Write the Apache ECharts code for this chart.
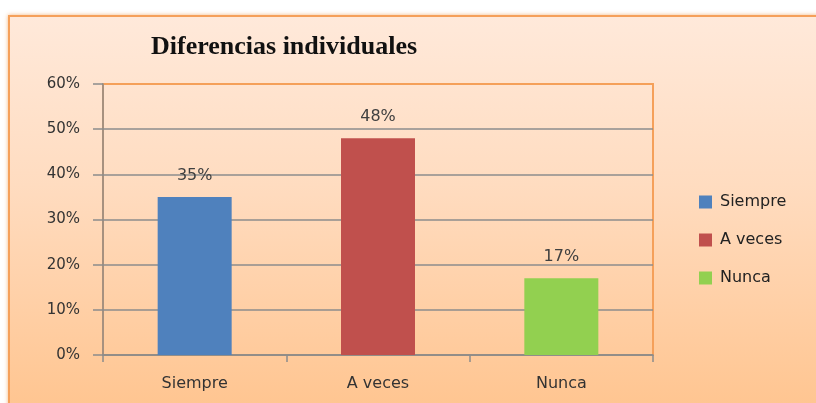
<!DOCTYPE html>
<html>
<head>
<meta charset="utf-8">
<script src="https://cdn.jsdelivr.net/npm/echarts@6/dist/echarts.min.js"></script>
<style>
  html, body { margin: 0; padding: 0; background: #fff; overflow: hidden; }
  #frame {
    position: absolute; left: 8px; top: 15px; width: 830px; height: 420px;
    border: 2px solid #f5a05a;
    box-shadow: 0 0 4px rgba(240, 150, 70, 0.7);
    background: linear-gradient(to bottom, #ffe9da 0%, #ffdcc0 40%, #ffc28a 100%);
  }
  #chart { position: absolute; left: 0; top: 0; width: 816px; height: 403px; }
</style>
</head>
<body>
<div id="frame"></div>
<div id="chart"></div>
<script>
// chart data
const categories = ["Siempre", "A veces", "Nunca"];
const values = [35, 48, 17];
const yTicks = [0, 10, 20, 30, 40, 50, 60];
const barColors = ["#4f81bd", "#c0504d", "#92d050"];

const chart = echarts.init(document.getElementById("chart"), null, { renderer: "canvas" });

const series = categories.map((name, i) => {
  const data = categories.map((c, j) => (j === i ? values[i] : "-"));
  return {
    name: name,
    type: "bar",
    data: data,
    barWidth: 74,
    barGap: "-100%",
    itemStyle: { color: barColors[i] },
    label: {
      show: true,
      position: "top",
      distance: 13,
      formatter: p => p.value + "%",
      color: "#404040",
      fontFamily: "DejaVu Sans",
      fontSize: 16
    }
  };
});

// top gridline is the orange plot border, the rest grey
const gridColors = yTicks.map((t, i) => (i === yTicks.length - 1 ? "#f5a05a" : "#8c8c8c"));

chart.setOption({
  animation: false,
  backgroundColor: "transparent",
  title: {
    text: "Diferencias individuales",
    left: 146,
    top: 29,
    textStyle: {
      fontFamily: "Liberation Serif",
      fontWeight: "bold",
      fontSize: 26,
      color: "#111"
    }
  },
  legend: {
    orient: "vertical",
    left: 694,
    top: 189,
    itemWidth: 13,
    itemHeight: 13,
    itemGap: 22,
    icon: "rect",
    data: categories,
    textStyle: {
      fontFamily: "DejaVu Sans",
      fontSize: 16,
      color: "#222",
      padding: [0, 0, 0, 3]
    }
  },
  grid: {
    left: 103,
    right: 163,
    top: 84,
    bottom: 48,
    show: true,
    borderColor: "#f5a05a",
    borderWidth: 2,
    backgroundColor: "transparent"
  },
  xAxis: {
    type: "category",
    data: categories,
    axisLine: { lineStyle: { color: "#8c8c8c", width: 1.5 } },
    axisTick: { show: true, length: 7, lineStyle: { color: "#8c8c8c", width: 1.5 } },
    axisLabel: {
      margin: 21,
      fontFamily: "DejaVu Sans",
      fontSize: 16,
      color: "#333"
    }
  },
  yAxis: {
    type: "value",
    min: yTicks[0],
    max: yTicks[yTicks.length - 1],
    interval: 10,
    axisLine: { show: true, lineStyle: { color: "#8c8c8c", width: 1.5 } },
    axisTick: { show: true, length: 10, lineStyle: { color: "#8c8c8c", width: 1.5 } },
    splitLine: { lineStyle: { color: gridColors, width: 1.5 } },
    axisLabel: {
      margin: 23,
      formatter: v => v + "%",
      fontFamily: "DejaVu Sans",
      fontSize: 15,
      color: "#333"
    }
  },
  series: series
});
</script>
</body>
</html>
